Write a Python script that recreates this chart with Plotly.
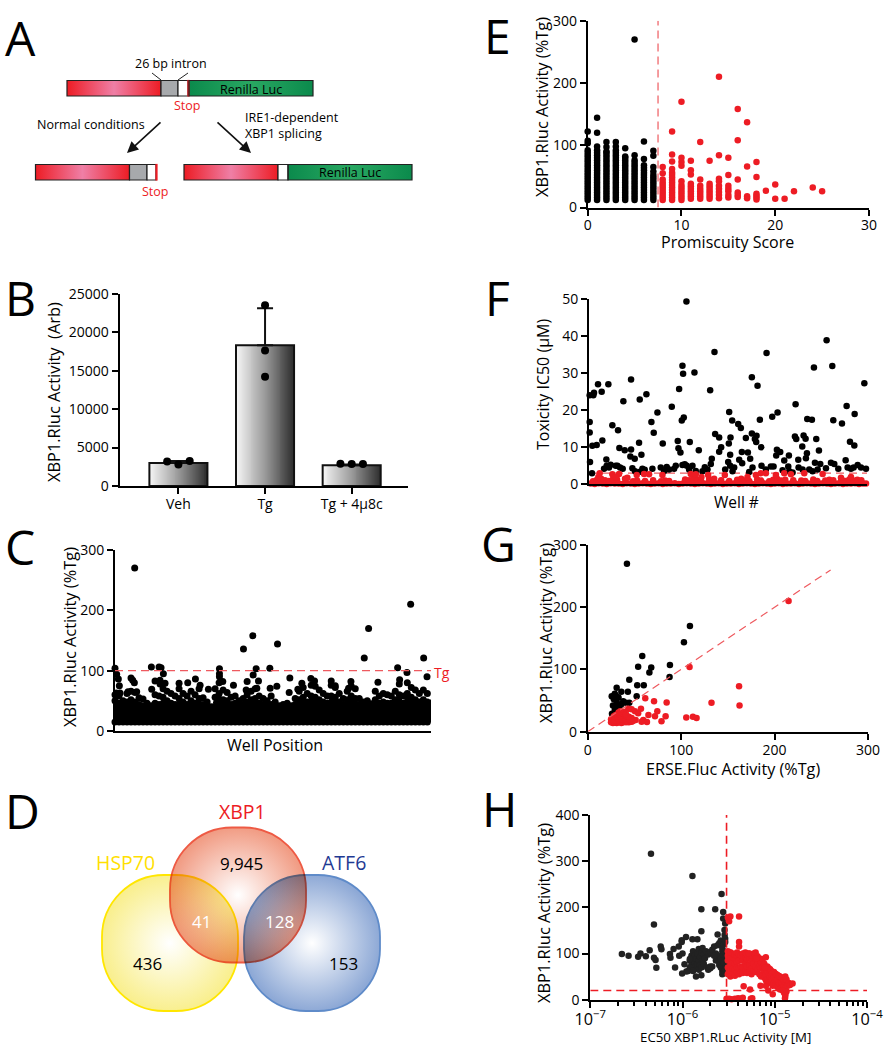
import base64
import plotly.graph_objects as go

W, H = 888, 1050
FONT = "Open Sans"
RED = "#ed1c24"
DASH = "#ee5a5f"

# --- panel B
b_names = ["Veh", "Tg", "Tg + 4µ8c"]
b_means = [3000, 18300, 2700]
b_err = [250, 4800, 100]
b_dot_x = [-0.13, 0, 0.13, 1, 1, 1, 1.87, 2, 2.13]
b_dot_y = [3200, 2800, 3250, 23500, 17600, 14200, 2900, 2850, 2850]

# --- panel C (well index, %Tg): the solid mass is read as an edge with peaks on it, the rest as single wells
c_edge_x = [0, 12, 24, 36, 48, 60, 72, 84, 96, 108, 120, 132, 144, 156, 168, 180, 192, 204, 216, 228,
            240, 252, 264, 276, 288, 300, 312, 324, 336, 348, 360, 372, 384, 396, 408, 420, 432, 444, 456, 468,
            480, 492, 504, 516, 528, 540, 552, 564, 576, 588, 600, 612, 624, 636, 648, 660, 672, 684, 696, 708,
            720, 732, 744, 756, 768, 780, 792, 804, 816, 828, 840, 852, 864, 876, 888, 900, 912, 924, 936, 948]
c_edge_y = [60, 58, 50, 62, 66, 64, 55, 53, 46, 42, 60, 58, 70, 66, 62, 58, 70, 62, 58, 66,
            60, 70, 55, 48, 40, 70, 80, 68, 64, 56, 58, 50, 54, 60, 66, 70, 58, 54, 50, 58,
            48, 42, 44, 46, 42, 54, 66, 72, 62, 76, 74, 68, 62, 58, 76, 72, 62, 54, 66, 74,
            70, 54, 48, 50, 45, 66, 58, 62, 60, 58, 66, 78, 58, 80, 72, 68, 62, 68, 62, 66]
c_fill_y = [50, 46, 42, 48, 52, 48, 44, 42, 38, 36, 46, 44, 56, 50, 46, 44, 54, 48, 44, 50,
            46, 54, 44, 40, 34, 56, 62, 52, 50, 44, 46, 42, 44, 48, 52, 54, 46, 44, 40, 44,
            40, 36, 38, 38, 36, 44, 52, 56, 48, 58, 56, 52, 48, 46, 58, 56, 48, 44, 52, 58,
            54, 44, 40, 42, 38, 52, 46, 48, 46, 46, 52, 60, 46, 62, 56, 52, 48, 52, 48, 52]
c_floor = 15
c_x = [59, 0, 5, 10, 13, 4, 15, 48, 53, 58, 39, 65, 109, 132, 138, 145, 120, 135, 110, 135, 150, 192, 218,
       241, 255, 280, 313, 313, 313, 323, 355, 385, 413, 487, 423, 464, 414, 396, 430, 393, 425, 465, 485,
       524, 522, 548, 560, 587, 598, 648, 660, 707, 700, 747, 760, 788, 853, 847, 875, 886, 925, 935, 956]
c_y = [270, 104, 94, 86, 75, 63, 63, 88, 84, 80, 65, 65, 106, 106, 105, 95, 83, 84, 69, 78, 79, 79, 80,
       86, 76, 69, 103, 95, 90, 82, 76, 136, 158, 144, 103, 104, 93, 82, 83, 68, 71, 71, 74,
       88, 64, 69, 79, 87, 83, 83, 75, 82, 71, 121, 170, 81, 85, 105, 97, 210, 121, 90, 72]

# --- panel E, one list of activities per promiscuity score
e_black = {
    0: [12, 16, 20, 24, 28, 32, 36, 40, 44, 48, 52, 56, 60, 64, 68, 72, 76, 80, 84, 88, 92, 103, 107, 122],
    1: [12, 16, 20, 24, 28, 32, 36, 40, 44, 48, 52, 56, 60, 64, 68, 72, 76, 80, 84, 88, 92, 98, 120, 144],
    2: [12, 16, 20, 24, 28, 32, 36, 40, 44, 48, 52, 56, 60, 64, 68, 72, 76, 80, 84, 88, 90, 97, 105],
    3: [12, 16, 20, 24, 28, 32, 36, 40, 44, 48, 52, 56, 60, 64, 68, 72, 76, 80, 84, 88, 92, 98, 105],
    4: [12, 16, 20, 24, 28, 32, 36, 40, 44, 48, 52, 56, 60, 64, 68, 72, 76, 80, 82, 95],
    5: [12, 16, 20, 24, 28, 32, 36, 40, 44, 48, 52, 56, 60, 64, 68, 72, 76, 84, 270],
    6: [12, 16, 20, 24, 28, 32, 36, 40, 44, 48, 52, 56, 60, 64, 68, 78, 106],
    7: [12, 16, 20, 24, 28, 32, 36, 40, 44, 48, 52, 58, 65, 83, 91],
}
e_red = {
    8: [12, 16, 20, 24, 28, 32, 36, 40, 45, 55, 65],
    9: [12, 16, 20, 24, 28, 32, 36, 40, 44, 48, 52, 56, 62, 74, 85, 122],
    10: [12, 16, 20, 24, 28, 32, 36, 42, 67, 73, 80, 170],
    11: [14, 18, 22, 26, 30, 34, 38, 53, 60, 75],
    12: [14, 18, 22, 26, 30, 35, 45, 105],
    13: [14, 18, 22, 26, 30, 34, 38, 75],
    14: [15, 20, 25, 30, 35, 42, 46, 84, 210],
    15: [16, 20, 26, 30, 35, 52, 80],
    16: [17, 20, 24, 45, 108, 158],
    17: [15, 18, 66, 137],
    18: [13, 16, 19, 22, 49, 73],
    19: [27],
    20: [14, 37],
    21: [14],
    22: [26],
    24: [32],
    25: [26],
}
e_cut = 7.5

# --- panel F
f_high_x = [2, 2, 2, 13, 15, 27, 38, 58, 3, 10, 23, 40, 9, 52, 70, 87, 103, 126, 91, 107, 126, 124, 137, 150,
            152, 172, 157, 187, 205, 194, 221, 248, 270, 280, 282, 292, 316, 266, 268, 274, 278, 284, 302, 329,
            363, 376, 378, 390, 396, 390, 368, 420, 429, 424, 419, 423, 447, 455, 470, 458, 476, 450, 459, 483,
            488, 505, 512, 488, 502, 497, 501, 516, 532, 549, 565, 563, 573, 561, 585, 599, 619, 617, 621, 639,
            643, 649, 653, 650, 627, 654, 668, 674, 681, 689, 712, 729, 732, 758, 772, 782, 795, 796, 825, 769]
f_high_y = [14, 16.8, 24, 24, 24.7, 27, 25, 27, 6, 10.4, 10.6, 11.8, 3, 6.7, 15.9, 14.6, 22.4, 28.3, 9.8, 9.2,
            9.4, 7.5, 6.9, 11.2, 22.9, 24.3, 8, 16.8, 19.4, 13.9, 11, 20.9, 25.7, 32, 29.8, 49.3, 30.2, 11.7,
            9.7, 8.6, 17.2, 18, 11.4, 9.2, 25.4, 35.7, 13.6, 12.6, 10, 8.8, 6.9, 19.5, 17.2, 12.6, 11, 8, 16.3,
            15.2, 12.5, 8.7, 8.6, 6.6, 5.7, 6.9, 28.9, 26.6, 17.4, 13.7, 13.1, 12.2, 11.4, 10, 35.4, 18.2, 19.4,
            9.3, 8.7, 7.8, 6.4, 7.8, 21.6, 12.9, 12.2, 10.2, 13.2, 12.3, 8.4, 7, 6.6, 17.6, 17.4, 31.5, 12.2, 9.1,
            38.9, 31.9, 17.3, 16.4, 21.1, 11.5, 10.5, 19, 27.3, 6.5]
f_band_x = [45, 53, 60, 65, 80, 85, 93, 101, 130, 138, 153, 160, 167, 190, 215, 225, 233, 240, 255, 260, 280, 287,
            293, 300, 310, 320, 340, 347, 355, 365, 408, 417, 423, 430, 435, 480, 490, 517, 530, 545, 553, 580,
            597, 600, 610, 628, 640, 660, 670, 677, 685, 693, 710, 725, 735, 747, 775, 785, 793, 805, 815, 830]
f_band_y = [4.2, 5, 4.5, 5.3, 5, 5, 4.5, 4.2, 4.3, 3.5, 3.4, 4.2, 3.9, 4.2, 4.5, 3.5, 4.7, 4, 4.2, 5, 5.2, 5.4,
            5, 4, 5, 3.6, 3.5, 4.6, 4, 5.5, 4, 6, 5, 3.5, 4.5, 3.3, 4.5, 5, 4, 4.8, 4.8, 3.8,
            4.8, 3.5, 3.2, 4.5, 4, 4, 3.5, 5.8, 4, 5.5, 4.3, 5.8, 5.5, 4.2, 4.5, 4.2, 4.5, 5.2, 4.5, 4.2]
f_red_x = [5, 17, 29, 41, 53, 65, 77, 89, 101, 113, 125, 137, 149, 161, 173, 185, 197, 209, 221, 233, 245, 257,
           269, 281, 293, 305, 317, 329, 341, 353, 365, 377, 389, 401, 413, 425, 437, 449, 461, 473, 485, 497,
           509, 521, 533, 545, 557, 569, 581, 593, 605, 617, 629, 641, 653, 665, 677, 689, 701, 713, 725, 737,
           749, 761, 773, 785, 797, 809, 821, 830,
           12, 24, 36, 48, 60, 72, 84, 108, 132, 144, 168, 192, 216, 228, 240, 288, 300, 312, 324, 336, 360, 372,
           396, 420, 444, 456, 468, 480, 504, 516, 540, 552, 564, 576, 588, 612, 636, 648, 672, 684, 708, 720, 732,
           756, 768, 780, 792, 804, 816,
           32, 70, 90, 80, 115, 143, 165, 180, 220, 305, 320, 337, 357, 375, 407, 475, 500, 515, 530, 560, 585, 605,
           645, 700, 755, 785, 28, 35]
f_red_y = [0.2, 0.1, 0.3, 0.2, 0.1, 0.3, 0.2, 0.2, 0.1, 0.3, 0.2, 0.1, 0.2, 0.3, 0.2, 0.1, 0.2, 0.3, 0.1, 0.2, 0.2,
           0.3, 0.1, 0.2, 0.3, 0.2, 0.1, 0.2, 0.3, 0.2, 0.1, 0.2, 0.3, 0.1, 0.2, 0.2, 0.3, 0.1, 0.2, 0.3, 0.2, 0.1,
           0.2, 0.3, 0.2, 0.1, 0.2, 0.3, 0.1, 0.2, 0.2, 0.3, 0.1, 0.2, 0.3, 0.2, 0.1, 0.2, 0.3, 0.2, 0.1, 0.2,
           0.3, 0.1, 0.2, 0.2, 0.3, 0.1, 0.2, 0.2,
           0.8, 1.2, 1.5, 1.1, 0.9, 1.4, 1.3, 1.5, 0.8, 1, 0.9, 1.1, 0.8, 1, 0.9, 1.3, 1.1, 1.4, 1.2, 0.9, 1.4, 0.8,
           1.1, 0.9, 1.2, 1.5, 1, 0.9, 1.3, 1, 0.8, 1.2, 1.4, 1, 1.2, 1.1, 1, 0.9, 1.3, 0.9, 1, 1.2, 1.1,
           1.4, 0.9, 1.3, 1, 1.2, 1.1,
           3, 2.7, 2.8, 2, 1.8, 2.5, 2.8, 2.7, 2.5, 2.8, 2.7, 2, 2.5, 1.5, 2.5, 2, 2.5, 3, 3, 2.5, 3, 2.7,
           3, 2.8, 1.8, 2, 2, 1.5]
f_cut = 3

# --- panel G
g_black_x = [42, 109.4, 103, 58.4, 54, 68, 66, 88, 87.6, 44.5, 53, 60, 52.4, 31, 36, 43, 29, 25.7, 31, 33, 27, 38,
             41, 44.5, 32, 36, 26, 29, 35, 27.5, 28, 31, 34]
g_black_y = [270, 170, 143.6, 121.6, 104.5, 103, 95, 107, 88, 83.6, 74.5, 74.5, 57, 70.7, 64, 64, 61, 57, 57, 55,
             42, 49, 46.6, 46.6, 41, 44, 29, 35, 32, 24, 52, 48, 38]
g_red_x = [215, 109, 162, 162.5, 132.5, 84.5, 71, 61.6, 57, 74.5, 72, 83.4, 65, 79, 105.5, 112.6, 116.5, 63.4,
           59.5, 57.7, 51.3, 43.5, 47, 50.6, 54,
           25, 26, 27, 28, 29, 30, 31, 32, 33, 34, 35, 36, 37, 38, 39, 40, 41, 42, 43, 44, 45, 46, 47, 48, 49,
           25, 27, 29, 31, 33, 35, 37, 39, 41, 43, 45, 47,
           28, 30, 32, 34, 36, 38, 40, 42, 44, 33, 35, 37, 39, 41]
g_red_y = [210, 104, 73, 42, 46.6, 47, 49, 53.6, 37, 32.7, 25, 25, 27, 16.6, 23, 24, 22, 15.5,
           18.7, 16, 18.7, 37, 36, 32.7, 29.5,
           15, 17, 14, 16, 15, 17, 14, 16, 15, 17, 16, 14, 17, 15, 16, 17, 15, 18, 16, 15, 17, 18, 16, 17, 18,
           20, 21, 19, 22, 21, 23, 20, 22, 21, 23, 20, 22,
           25, 27, 24, 28, 26, 29, 27, 25, 24, 31, 33, 30, 32, 28]
g_guide = [0, 260]

# --- panel H, EC50 in uM
h_black_um = [.22, .26, .33, .35, .40, .44, .455, .49, .49, .51, .52, .58, .59, .73, .74, .80, .83, .91, .92, 1.0, .98,
              .99, 1.1, 1.05, 1.09, .98, 1.28, 1.45, 1.6, 1.28, 1.6, 2.26, 2.65, 2.76, 2.76, 2.85, 2.9, 2.4, 2.86,
              1.4, 1.6, 1.2, 1.25, 1.25, 1.3, 1.3, 1.35, 1.35, 1.4, 1.4, 1.45, 1.45, 1.5, 1.5, 1.5, 1.55, 1.55, 1.6,
              1.6, 1.65, 1.65, 1.7, 1.7, 1.75, 1.8, 1.85, 1.9, 2.0, 2.0, 2.1, 2.1, 2.2, 2.3, 2.4, 2.5, 2.5, 2.6, 2.6,
              2.7, 2.7, 2.8, 2.8, 2.9, 2.9, 2.9, 3.0, 3.0, 3.0, 2.3, 2.4, 2.5, 2.6, 2.6, 2.7, 2.7, 2.8, 2.8, 2.9,
              1.15, 1.2, 1.9, 2.0, 2.2, 2.7, 2.8, 2.9, 1.2, 1.3]
h_black_y = [99, 95, 93, 100, 94, 107, 316, 91, 163, 86, 69, 115, 109, 99, 91, 110, 70, 115, 95, 100, 129,
             57, 61, 77, 136, 125, 268, 131, 196, 131, 148, 196, 229, 190, 176, 151, 165, 141, 140,
             50, 53, 85, 75, 95, 70, 105, 80, 95, 72, 88, 78, 100, 65, 85, 110, 75, 92, 70,
             102, 85, 112, 78, 98, 90, 105, 70, 98, 103, 68, 108, 72, 115, 100, 118, 122, 82, 128, 92,
             105, 62, 125, 72, 132, 90, 78, 60, 100, 85, 85, 95, 75, 88, 70, 98, 55, 80, 105, 66,
             62, 70, 65, 72, 95, 112, 120, 125, 88, 62]
h_red_um = [3.1, 3.3, 4.1, 3.2, 4.1, 4.1, 4.6, 5.4, 8, 7, 9.5, 8.5, 13, 12.9,
            3.0, 3.2, 3.4, 3.7, 4, 4.2, 4.5, 5.5, 5.7,
            3.1, 3.1, 3.1, 3.1, 3.1, 3.2, 3.3, 3.3, 3.3, 3.3, 3.5, 3.5, 3.5, 3.5, 3.5, 3.7, 3.7, 3.7, 3.7, 3.7,
            3.9, 3.9, 3.9, 3.9, 3.9, 4.1, 4.1, 4.1, 4.1, 4.3, 4.3, 4.3, 4.3, 4.5, 4.5, 4.5, 4.5, 4.8, 4.8, 4.8, 4.8,
            5, 5, 5, 5, 5.3, 5.3, 5.3, 5.3, 5.6, 5.6, 5.6, 5.6, 5.9, 5.9, 5.9, 6.2, 6.2, 6.2, 6.2, 6.5, 6.5, 6.5,
            6.8, 6.8, 6.8, 7.1, 7.1, 7.1, 7.4, 7.4, 7.4, 7.7, 7.7, 7.7, 8, 8, 8, 8, 8.3, 8.3, 8.3, 8.6, 8.6, 8.6,
            8.9, 8.9, 8.9, 9.2, 9.2, 9.2, 9.5, 9.5, 9.5, 9.8, 9.8, 9.8, 10.2, 10.2, 10.2, 10.6, 10.6, 10.6, 11, 11, 11,
            11.4, 11.4, 11.4, 11.8, 11.8, 11.8, 12.2, 12.2, 12.2, 12.6, 12.6, 12.6, 13, 13, 13, 13, 13.4, 13.4, 13.4,
            13.8, 14.2, 14.6, 15.6, 7.8, 6.3, 5.2]
h_red_y = [178, 180, 180, 170, 125, 115, 29, 22, 30, 30, 12, 20, 8, 3,
           2, 2, 1, 2, 3, 2, 4, 2, 3,
           55, 70, 85, 95, 105, 62, 50, 75, 90, 103, 58, 68, 80, 92, 100, 52, 65, 78, 88, 98,
           60, 70, 82, 95, 102, 55, 68, 85, 98, 60, 72, 88, 96, 58, 70, 85, 100, 62, 78, 92, 102,
           58, 72, 88, 98, 60, 75, 90, 100, 55, 68, 84, 96, 62, 78, 100, 60, 72, 88, 102, 65, 80, 94,
           55, 72, 90, 50, 68, 82, 55, 70, 88, 48, 62, 78, 42, 55, 68, 92, 45, 60, 72, 40, 52, 68,
           38, 50, 66, 35, 48, 62, 30, 45, 58, 35, 48, 60, 32, 42, 56, 28, 42, 54, 25, 38, 52,
           22, 35, 50, 25, 38, 48, 20, 32, 46, 15, 30, 42, 12, 25, 38, 50, 18, 32, 44,
           30, 36, 32, 35, 70, 90, 100]
h_cut_um = 3
h_floor = 20

ven_counts = ["9,945", "41", "128", "436", "153"]


def dom(lo, hi, size):
    return [lo / size, hi / size]


def ydom(top, bottom):
    return [1 - bottom / H, 1 - top / H]


def px(x, y):
    return x / W, 1 - y / H


def flatten(cols):
    xs, ys = [], []
    for k, vals in cols.items():
        xs += [k] * len(vals)
        ys += vals
    return xs, ys


def text(s, x, y, size=14, color="black", anchor="center", angle=0, family=FONT):
    xp, yp = px(x, y)
    return dict(text=s, x=xp, y=yp, xref="paper", yref="paper", showarrow=False, xanchor=anchor, yanchor="middle",
                textangle=angle, font=dict(family=family, size=size, color=color))


def y_axis(top, bottom, left, anchor, rng, ticks):
    return dict(domain=ydom(top, bottom), range=rng, anchor=anchor, tickvals=ticks, showgrid=False, zeroline=False,
                showline=True, linecolor="black", linewidth=2, ticks="outside", ticklen=6, tickwidth=2,
                automargin=False, tickformat="d", tickcolor="black",
                tickfont=dict(family=FONT, size=14, color="black"))


def x_axis(left, right, anchor, rng, ticks=None, labels=None, **kw):
    ax = dict(domain=dom(left, right, W), range=rng, anchor=anchor, showgrid=False, zeroline=False, showline=True,
              linecolor="black", linewidth=2, tickcolor="black", tickwidth=2, automargin=False, ticklabelstandoff=-2,
              tickfont=dict(family=FONT, size=14, color="black"))
    if ticks is None:
        ax.update(ticks="", showticklabels=False)
    else:
        ax.update(ticks="outside", ticklen=6, tickvals=ticks)
        if labels:
            ax["ticktext"] = labels
    ax.update(kw)
    return ax


def dots(x, y, color="black", axes=("x", "y"), size=6.5):
    return go.Scatter(x=x, y=y, mode="markers", marker=dict(color=color, size=size, line=dict(width=0)),
                      xaxis=axes[0], yaxis=axes[1], cliponaxis=False, showlegend=False, hoverinfo="skip")


def guide(x, y, axes, color=DASH, width=1.2, dash="8px,5px"):
    return go.Scatter(x=x, y=y, mode="lines", line=dict(color=color, width=width, dash=dash),
                      xaxis=axes[0], yaxis=axes[1], cliponaxis=False, showlegend=False, hoverinfo="skip")


fig = go.Figure()

# B
bar_w = 0.67
ramp = [i / 59 for i in range(60)]
for i, mean in enumerate(b_means):
    edges = [i - bar_w / 2 + bar_w * k / 60 for k in range(61)]
    fig.add_trace(go.Heatmap(x=edges, y=[0, mean], z=[ramp], xaxis="x", yaxis="y", showscale=False, hoverinfo="skip",
                             zmin=0, zmax=1, colorscale=[[0, "#f5f5f5"], [0.5, "#9a9a9a"], [1, "#2e2e2e"]]))
fig.add_trace(go.Bar(x=[0, 1, 2], y=b_means, width=bar_w, xaxis="x", yaxis="y", showlegend=False, hoverinfo="skip",
                     marker=dict(color="rgba(0,0,0,0)", line=dict(color="#111", width=2)),
                     error_y=dict(type="data", symmetric=False, array=b_err, arrayminus=[0, 0, 0], color="#111",
                                  thickness=2, width=8)))
fig.add_trace(dots(b_dot_x, b_dot_y, size=8))

# C
fig.add_trace(go.Scatter(x=c_edge_x + c_edge_x[::-1], y=c_fill_y + [c_floor] * len(c_edge_x), mode="lines", xaxis="x2",
                         yaxis="y2", fill="toself", fillcolor="black", line=dict(color="black", width=1),
                         cliponaxis=False, showlegend=False, hoverinfo="skip"))
fig.add_trace(dots(c_edge_x, c_edge_y, axes=("x2", "y2"), size=7))
fig.add_trace(dots(c_edge_x, c_fill_y, axes=("x2", "y2"), size=7))
fig.add_trace(dots(c_edge_x, [c_floor] * len(c_edge_x), axes=("x2", "y2"), size=7))
fig.add_trace(dots(c_x, c_y, axes=("x2", "y2"), size=7))
fig.add_trace(guide([0, 962], [100, 100], ("x2", "y2")))

# E
ex, ey = flatten(e_black)
fig.add_trace(dots(ex, ey, axes=("x3", "y3")))
ex, ey = flatten(e_red)
fig.add_trace(dots(ex, ey, RED, axes=("x3", "y3")))
fig.add_trace(guide([e_cut, e_cut], [0, 300], ("x3", "y3")))

# F
fig.add_trace(guide([0, 835], [f_cut, f_cut], ("x4", "y4")))
fig.add_trace(dots(f_high_x + f_band_x, f_high_y + f_band_y, axes=("x4", "y4")))
fig.add_trace(dots(f_red_x, f_red_y, RED, axes=("x4", "y4")))

# G
fig.add_trace(dots(g_black_x, g_black_y, axes=("x5", "y5")))
fig.add_trace(dots(g_red_x, g_red_y, RED, axes=("x5", "y5")))
fig.add_trace(guide(g_guide, g_guide, ("x5", "y5")))

# H
fig.add_trace(dots([v * 1e-6 for v in h_black_um], h_black_y, "#222", axes=("x6", "y6")))
fig.add_trace(dots([v * 1e-6 for v in h_red_um], h_red_y, RED, axes=("x6", "y6")))
fig.add_trace(guide([h_cut_um * 1e-6] * 2, [0, 400], ("x6", "y6"), RED, 1.6))
fig.add_trace(guide([1e-7, 1e-4], [h_floor, h_floor], ("x6", "y6"), RED, 1.6))

# gradient artwork for panels A and D, plotly shapes have no gradients
svg = f"""<svg xmlns="http://www.w3.org/2000/svg" width="{W}" height="{H}" viewBox="0 0 {W} {H}">
<defs>
<linearGradient id="red"><stop offset="0" stop-color="#ed1c24"/><stop offset=".5" stop-color="#ef7fa6"/><stop offset="1" stop-color="#ed1c24"/></linearGradient>
<linearGradient id="grn"><stop offset="0" stop-color="#0b8a4c"/><stop offset=".5" stop-color="#29a862"/><stop offset="1" stop-color="#0b8a4c"/></linearGradient>
<radialGradient id="rb"><stop offset="0" stop-color="#fff"/><stop offset="1" stop-color="#f19c84"/></radialGradient>
<radialGradient id="yb"><stop offset="0" stop-color="#fff"/><stop offset="1" stop-color="#f9ef8f"/></radialGradient>
<radialGradient id="bb"><stop offset="0" stop-color="#fff"/><stop offset="1" stop-color="#8ea9d6"/></radialGradient>
</defs>
<rect x="67" y="80.5" width="94" height="15.5" fill="url(#red)"/><rect x="189" y="80.5" width="124" height="15.5" fill="url(#grn)"/>
<rect x="35.5" y="164.5" width="94" height="15.5" fill="url(#red)"/>
<rect x="184" y="164.5" width="94" height="15.5" fill="url(#red)"/><rect x="288" y="164.5" width="124" height="15.5" fill="url(#grn)"/>
<g style="isolation:isolate" stroke-width="1.8">
<rect x="102" y="875" width="136" height="136" rx="62" fill="url(#yb)" stroke="#ffe600"/>
<rect x="244" y="875" width="136" height="136" rx="62" fill="url(#bb)" stroke="#5f8bc9"/>
<rect x="170" y="827.5" width="136" height="135" rx="62" fill="url(#rb)" stroke="#ee5a44" style="mix-blend-mode:multiply"/>
</g></svg>"""
images = [dict(source="data:image/svg+xml;base64," + base64.b64encode(svg.encode()).decode(), xref="paper", yref="paper",
               x=0, y=1, sizex=1, sizey=1, xanchor="left", yanchor="top", sizing="stretch", layer="below")]

shapes = []


def rect(x0, y0, x1, y1, fill="rgba(0,0,0,0)", line="#222", width=1.2):
    a, b = px(x0, y0)
    c, d = px(x1, y1)
    shapes.append(dict(type="rect", xref="paper", yref="paper", x0=a, y0=b, x1=c, y1=d, fillcolor=fill,
                       line=dict(color=line, width=width)))


def seg(x0, y0, x1, y1):
    a, b = px(x0, y0)
    c, d = px(x1, y1)
    shapes.append(dict(type="line", xref="paper", yref="paper", x0=a, y0=b, x1=c, y1=d, line=dict(color="#222", width=1)))


rect(67, 80.5, 161, 96)
rect(161, 80.5, 178, 96, "#a7a9ac")
rect(178, 80.5, 188, 96, "white")
rect(188, 80.5, 189, 96, RED, RED)
rect(189, 80.5, 313, 96)
rect(35.5, 164.5, 129.5, 180)
rect(129.5, 164.5, 147, 180, "#a7a9ac")
rect(147, 164.5, 156, 180, "white")
rect(156, 164.5, 157, 180, RED, RED)
rect(184, 164.5, 278, 180)
rect(278, 164.5, 288, 180, "white")
rect(288, 164.5, 412, 180)
seg(152, 73, 161, 80)
seg(188, 73, 178, 80)

ann = [
    text("A", 20, 37, 48), text("B", 20, 297, 48), text("C", 20, 546, 48), text("D", 22, 810, 48),
    text("E", 497, 36, 48), text("F", 497, 298, 48), text("G", 498, 543, 48), text("H", 499, 808, 48),
    text("26 bp intron", 171, 63, 12.5), text("Renilla Luc", 251, 89, 12.5), text("Stop", 187, 106, 12.5, RED),
    text("Normal conditions", 35, 124, 12.5, anchor="left"),
    text("IRE1-dependent", 243, 117, 12.5, anchor="left"), text("XBP1 splicing", 243, 133, 12.5, anchor="left"),
    text("Stop", 155, 191, 12.5, RED), text("Renilla Luc", 350, 172.5, 12.5),
    text("XBP1.Rluc Activity  (Arb)", 54, 392, 16.4, angle=-90),
    text("XBP1.Rluc Activity (%Tg)", 69, 637, 16.4, angle=-90), text("Well Position", 275, 745, 16),
    text("Tg", 442, 672, 14, RED),
    text("XBP1", 243, 811, 19.5, RED), text("HSP70", 125, 862, 19.5, "#ffe000"), text("ATF6", 344, 862, 19.5, "#1f3a93"),
    text(ven_counts[0], 241, 863, 17), text(ven_counts[1], 201, 921, 17, "white"),
    text(ven_counts[2], 279, 921, 17, "white"), text(ven_counts[3], 147, 963, 17), text(ven_counts[4], 343, 963, 17),
    text("XBP1.Rluc Activity (%Tg)", 541, 107, 16.4, angle=-90), text("Promiscuity Score", 727.5, 242, 16),
    text("Toxicity IC50 (µM)", 543, 385, 16, angle=-90), text("Well #", 736, 502, 15.5),
    text("XBP1.Rluc Activity (%Tg)", 545, 633, 16.4, angle=-90), text("ERSE.Fluc Activity (%Tg)", 732.5, 769, 16.2),
    text("XBP1.Rluc Activity (%Tg)", 543, 913, 16.4, angle=-90), text("EC50 XBP1.RLuc Activity [M]", 725, 1037, 13.3),
]
for tip, tail in [((127, 153), (162, 121)), ((251, 153), (216, 121))]:
    xp, yp = px(*tip)
    ann.append(dict(x=xp, y=yp, xref="paper", yref="paper", showarrow=True, text="", arrowhead=2, arrowsize=1.4,
                    arrowwidth=1.6, arrowcolor="#111", ax=tail[0] - tip[0], ay=tail[1] - tip[1]))

fig.update_layout(
    width=W, height=H, autosize=False, margin=dict(l=0, r=0, t=0, b=0), paper_bgcolor="white", plot_bgcolor="rgba(0,0,0,0)",
    showlegend=False, images=images, shapes=shapes, annotations=ann, barmode="overlay",
    xaxis=x_axis(119.5, 408, "y", [-0.68, 2.65], [0, 1, 2], b_names),
    yaxis=y_axis(293.7, 486, 119.5, "x", [0, 25000], [0, 5000, 10000, 15000, 20000, 25000]),
    xaxis2=x_axis(115, 431, "y2", [0, 947]),
    yaxis2=y_axis(550, 731, 115, "x2", [0, 300], [0, 100, 200, 300]),
    xaxis3=x_axis(587.7, 869, "y3", [0, 30], [0, 10, 20, 30]),
    yaxis3=y_axis(20.7, 207.5, 587.7, "x3", [0, 300], [0, 100, 200, 300]),
    xaxis4=x_axis(589, 867, "y4", [0, 833]),
    yaxis4=y_axis(299, 484.3, 589, "x4", [0, 50], [0, 10, 20, 30, 40, 50]),
    xaxis5=x_axis(587.7, 868, "y5", [0, 300], [0, 100, 200, 300]),
    yaxis5=y_axis(545, 731.7, 587.7, "x5", [0, 300], [0, 100, 200, 300]),
    xaxis6=x_axis(590.3, 867, "y6", [-7, -4], type="log", ticks="outside", ticklen=6, dtick=1, showticklabels=True,
                  exponentformat="power", minor=dict(ticks="outside", ticklen=4, tickwidth=1.5, tickcolor="black"),
                  tickvals=None, tickfont=dict(family=FONT, size=13, color="black")),
    yaxis6=y_axis(815, 999.7, 590.3, "x6", [0, 400], [0, 100, 200, 300, 400]),
)

# the page's default body margin would shift the whole figure by 8px
fig.write_html("out.html", config={"displayModeBar": False}, post_script="document.body.style.margin = '0';")
